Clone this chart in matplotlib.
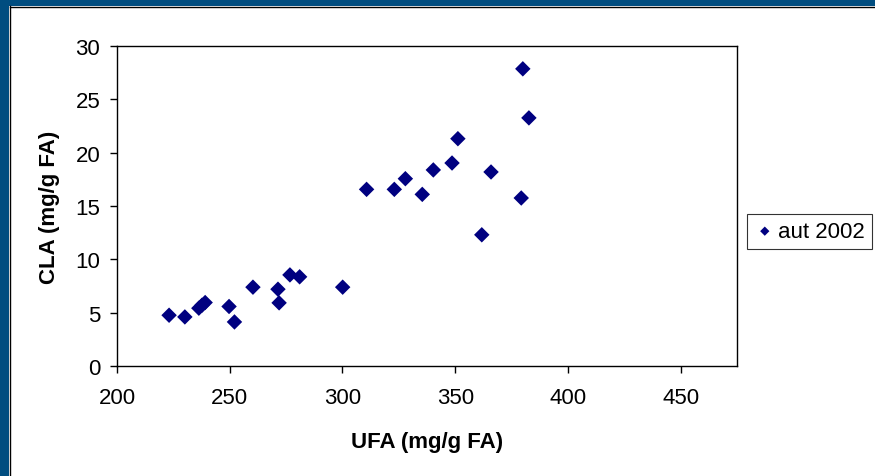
import matplotlib.pyplot as plt
from matplotlib.patches import Rectangle
from matplotlib.lines import Line2D

# UFA vs CLA, autumn 2002
ufa = [223.1, 230.1, 236.3, 237.7, 239.1, 249.7, 252.1, 260.3, 271.4, 271.9,
       276.7, 281.0, 300.1, 310.7, 323.0, 327.9, 335.4, 340.3, 348.6, 351.2,
       361.8, 365.9, 379.3, 380.0, 382.7]
cla = [4.76, 4.6, 5.42, 5.7, 5.95, 5.58, 4.13, 7.39, 7.2, 5.92,
       8.54, 8.36, 7.39, 16.56, 16.56, 17.56, 16.09, 18.38, 19.03, 21.31,
       12.3, 18.19, 15.75, 27.86, 23.26]
series_name = 'aut 2002'
xticks = [200, 250, 300, 350, 400, 450]
yticks = [0, 5, 10, 15, 20, 25, 30]

plt.rcParams['font.family'] = ['Liberation Sans', 'DejaVu Sans']

W, H = 875, 477
fig = plt.figure(figsize=(W / 100, H / 100), dpi=100)
fig.patch.set_facecolor('white')

# navy slide frame on top and left
navy = '#004D80'
fig.patches.append(Rectangle((0, (H - 7) / H), 1, 7 / H, transform=fig.transFigure,
                             facecolor=navy, edgecolor='none', zorder=0))
fig.patches.append(Rectangle((0, 0), 9 / W, 1, transform=fig.transFigure,
                             facecolor=navy, edgecolor='none', zorder=0))
fig.lines.append(Line2D([9.5 / W, 9.5 / W], [0, (H - 7) / H], transform=fig.transFigure,
                        color='black', lw=1))
fig.lines.append(Line2D([9.5 / W, 1], [(H - 7.5) / H, (H - 7.5) / H], transform=fig.transFigure,
                        color='black', lw=1))

ax = fig.add_axes([117 / W, (H - 367) / H, 620 / W, 320 / H])
ax.scatter(ufa, cla, marker='D', s=62, color='#000080', edgecolors='none',
           label=series_name, zorder=3)

ax.set_xlim(200, 475)
ax.set_ylim(0, 30)
ax.set_xticks(xticks)
ax.set_yticks(yticks)
ax.tick_params(direction='out', length=5, width=1, labelsize=16, color='black')
ax.tick_params(axis='x', pad=10)
ax.tick_params(axis='y', pad=7)
for s in ax.spines.values():
    s.set_color('black')
    s.set_linewidth(1)

ax.set_xlabel('UFA (mg/g FA)', fontsize=16, fontweight='bold', labelpad=17)
ax.set_ylabel('CLA (mg/g FA)', fontsize=16, fontweight='bold', labelpad=11)

leg = fig.legend(loc='center left', bbox_to_anchor=(747 / W, (H - 232.5) / H),
                 fontsize=16, frameon=True, fancybox=False, edgecolor='black',
                 handletextpad=0.1, handlelength=1.0, borderpad=0.3,
                 borderaxespad=0, markerscale=0.6)
leg.get_frame().set_linewidth(0.8)

fig.savefig('out.png', dpi=100)
